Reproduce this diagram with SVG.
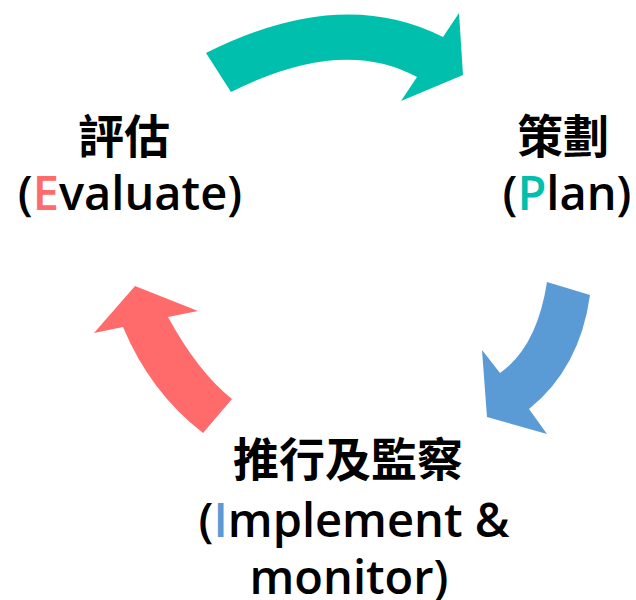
<svg xmlns="http://www.w3.org/2000/svg" width="636" height="600" viewBox="0 0 636 600">
<style>
  .lbl { font-family: "Open Sans", "Noto Sans CJK TC", sans-serif; font-size: 47px; font-weight: 600; fill: #000; text-anchor: middle; }
  .cjk { font-family: "Noto Sans CJK TC", sans-serif; font-size: 46px; font-weight: 700; }
</style>
<rect width="636" height="600" fill="#fff"/>
<g id="connectors">
  <path id="arrow-plan" d="M206,53 Q341,-15 443,37 L459,13 L463,75 L401,101 L417,77 Q342,36 231,92 Z" fill="#00BFAC"/>
  <path id="arrow-implement" d="M547,282 L590,295 Q580,368 529,409 L547,434 L487,417 L482,350 L500,373 Q537,347 547,282 Z" fill="#5B9BD5"/>
  <path id="arrow-evaluate" d="M135,286 L198,311 L168,317 Q198,372 232,399 L203,433 Q150,392 123,327 L94,333 Z" fill="#FF6B6B"/>
</g>
<g id="node-evaluate">
  <text class="lbl cjk" x="124" y="153">評估</text>
  <text class="lbl" x="130" y="210">(<tspan fill="#FF6B6B">E</tspan>valuate)</text>
</g>
<g id="node-plan">
  <text class="lbl cjk" x="563" y="153">策劃</text>
  <text class="lbl" x="567" y="210">(<tspan fill="#00BFAC">P</tspan>lan)</text>
</g>
<g id="node-implement">
  <text class="lbl cjk" x="348" y="476">推行及監察</text>
  <text class="lbl" x="354" y="537">(<tspan fill="#5B9BD5">I</tspan>mplement &amp;</text>
  <text class="lbl" x="349" y="594">monitor)</text>
</g>
</svg>
